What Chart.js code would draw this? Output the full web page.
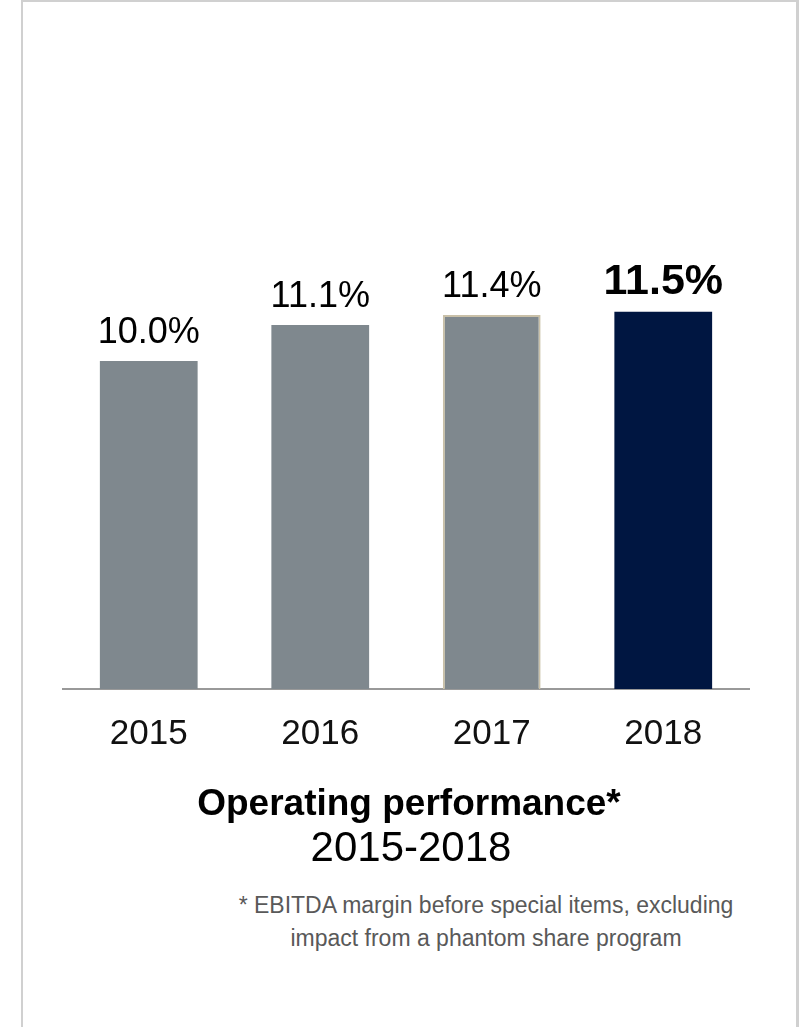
<!DOCTYPE html>
<html>
<head>
<meta charset="utf-8">
<script src="https://cdn.jsdelivr.net/npm/chart.js@4/dist/chart.umd.min.js"></script>
<style>
  html, body { margin: 0; padding: 0; background: #fff; }
  body { width: 810px; height: 1027px; position: relative; overflow: hidden;
         font-family: "Liberation Sans", Arial, sans-serif; }
  .frame { position: absolute; left: 21px; top: 0; width: 773px; height: 1100px;
           border: 2px solid #d0d0d0; border-right-width: 3px; }
  #chart { position: absolute; left: 0; top: 0; }
  .title { position: absolute; left: 109px; width: 600px; top: 784px; text-align: center;
           font-size: 37px; line-height: 37px; font-weight: bold; color: #000; }
  .period { position: absolute; left: 111px; width: 600px; top: 826px; text-align: center;
            font-size: 42px; line-height: 42px; color: #000; }
  .note { position: absolute; left: 186px; width: 600px; top: 889px; text-align: center;
          font-size: 23px; line-height: 33px; color: #595959; }
</style>
</head>
<body>
<div class="frame"></div>
<canvas id="chart" width="810" height="795"></canvas>
<div class="title">Operating performance*</div>
<div class="period">2015-2018</div>
<div class="note">* EBITDA margin before special items, excluding<br>impact from a phantom share program</div>
<script>
// EBITDA margin (%) by year
const years = ['2015', '2016', '2017', '2018'];
const margins = [10.0, 11.1, 11.4, 11.5];
const barColors = ['#7f888e', '#7f888e', '#7f888e', '#001641'];
const barBorders = ['#7f888e', '#7f888e', '#c9c0a8', '#001641'];
const barBorderWidths = [0, 0, 2, 0];
const highlightIndex = 3;

const FONT = '"Liberation Sans", Arial, sans-serif';

// Percentage labels above each bar; the latest year is emphasised
const valueLabels = {
  id: 'valueLabels',
  afterDatasetsDraw(chart) {
    const ctx = chart.ctx;
    const meta = chart.getDatasetMeta(0);
    ctx.save();
    ctx.textAlign = 'center';
    ctx.textBaseline = 'alphabetic';
    meta.data.forEach((bar, i) => {
      const v = chart.data.datasets[0].data[i];
      const bold = i === highlightIndex;
      ctx.font = (bold ? 'bold 43px ' : '36px ') + FONT;
      ctx.fillStyle = '#000';
      ctx.fillText(v.toFixed(1) + '%', bar.x, bar.y - 18);
    });
    ctx.restore();
  }
};

new Chart(document.getElementById('chart'), {
  type: 'bar',
  data: {
    labels: years,
    datasets: [{
      data: margins,
      backgroundColor: barColors,
      borderColor: barBorders,
      borderWidth: barBorderWidths,
      borderSkipped: 'bottom',
      barPercentage: 0.57,
      categoryPercentage: 1.0
    }]
  },
  options: {
    responsive: false,
    animation: false,
    layout: { padding: { left: 63, right: 61, top: 33, bottom: 16 } },
    plugins: { legend: { display: false }, tooltip: { enabled: false } },
    scales: {
      x: {
        grid: { display: false, drawTicks: false },
        border: { display: true, color: '#999999', width: 2 },
        ticks: { color: '#111', padding: 24, font: { family: FONT, size: 35 } }
      },
      y: {
        display: false,
        min: 0,
        max: 20
      }
    }
  },
  plugins: [valueLabels]
});
</script>
</body>
</html>
